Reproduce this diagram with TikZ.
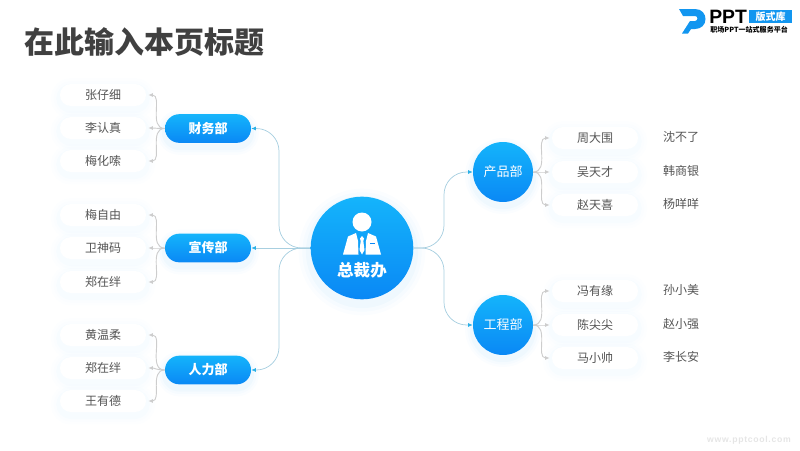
\documentclass[tikz,border=0pt]{standalone}
\usepackage{fontspec}
\usetikzlibrary{arrows.meta,positioning,calc,shapes.misc}
\setmainfont{Noto Sans CJK SC}
\newfontfamily\wmfont[LetterSpace=8]{Liberation Sans}
\newfontfamily\logofont{Liberation Sans}
\definecolor{skytop}{HTML}{14B4FB}
\definecolor{skybot}{HTML}{0A88F5}
\definecolor{inktext}{HTML}{555555}
\definecolor{titleink}{HTML}{404040}
\definecolor{glowblue}{HTML}{2AA5F5}
\definecolor{linkblue}{HTML}{A8CFE0}
\definecolor{tipblue}{HTML}{2BB0E6}
\definecolor{linkgrey}{HTML}{CDCDCD}
\definecolor{logoblue}{HTML}{1296F0}
\tikzset{
  softglow/.style={
    preaction={draw=glowblue,draw opacity=0.02,line width=#1*1.0pt,transform canvas={yshift=-3pt}},
    preaction={draw=glowblue,draw opacity=0.025,line width=#1*0.7pt,transform canvas={yshift=-3pt}},
    preaction={draw=glowblue,draw opacity=0.03,line width=#1*0.4pt,transform canvas={yshift=-3pt}}},
  paleglow/.style={
    preaction={draw=glowblue,draw opacity=0.008,line width=#1*1.0pt,transform canvas={yshift=-2.5pt}},
    preaction={draw=glowblue,draw opacity=0.012,line width=#1*0.7pt,transform canvas={yshift=-2.5pt}},
    preaction={draw=glowblue,draw opacity=0.016,line width=#1*0.4pt,transform canvas={yshift=-2.5pt}}},
  person/.style={rounded rectangle,fill=white,paleglow=14,minimum width=64.5pt,minimum height=16.5pt,
    inner sep=0pt,font=\fontsize{9}{11}\selectfont,text=inktext},
  dept/.style={rounded rectangle,top color=skytop,bottom color=skybot,softglow=12,minimum width=64.5pt,minimum height=21.5pt,
    inner sep=0pt,font=\fontsize{9.75}{12}\selectfont\bfseries,text=white},
  deptround/.style={circle,top color=skytop,bottom color=skybot,softglow=12,minimum size=45pt,
    inner sep=0pt,font=\fontsize{9.75}{12}\selectfont\bfseries,text=white},
  extra/.style={inner sep=0pt,font=\fontsize{9}{11}\selectfont,text=inktext},
  link/.style={draw=linkblue,line width=0.55pt,rounded corners=17pt,-{Latex[length=3.5pt,width=3pt,color=tipblue]}},
  sublink/.style={draw=linkgrey,line width=0.7pt,shorten >=1.5pt,-{Latex[length=3.5pt,width=3pt,color=linkgrey]}}
}
\begin{document}
\begin{tikzpicture}[x=0.75pt,y=-0.75pt]
\useasboundingbox (0,0) rectangle (800,450);

% Title
\node[anchor=west,inner sep=0pt,font=\fontsize{22.5}{26}\selectfont\bfseries,text=titleink] (title) at (24,42) {在此输入本页标题};

% Logo
\fill[logoblue,even odd rule] (679,9) -- (695,9) .. controls (702,9) and (705.5,14) .. (705.5,19) .. controls (705.5,25) and (701,29) .. (695,29) -- (691,29) -- (688,33.5) -- (682,33.5) -- (690,21) -- (695,21)
  .. controls (698,21) and (698.5,16) .. (695,16) -- (683,16) -- cycle;
\node[anchor=west,inner sep=0pt,font=\logofont\fontsize{14.5}{16}\selectfont\bfseries,text=black] (logoppt) at (709,16.5) {PPT};
\node[fill=logoblue,minimum width=32.2pt,minimum height=9.8pt,inner sep=0pt,font=\fontsize{7.5}{9}\selectfont\bfseries,text=white] (logotag) at (770.5,16.5) {版式库};
\node[anchor=west,inner sep=0pt,font=\fontsize{5.3}{6}\selectfont\bfseries,text=black] (logosub) at (710,29.5) {职场PPT一站式服务平台};

% Footer
\node[anchor=east,inner sep=0pt,font=\wmfont\fontsize{6.5}{8}\selectfont\bfseries,text=black!10] (footer) at (791,440) {www.pptcool.com};

% Hub
\node[circle,top color=skytop,bottom color=skybot,softglow=18,minimum size=77pt,inner sep=0pt] (hub) at (362,248) {};
\node[inner sep=0pt,font=\fontsize{12.4}{14}\selectfont\bfseries,text=white] (hubtext) at (362,270) {总裁办};
\fill[white] (362,222) circle (9.5);
\fill[white] (343,254.5) -- (348,236.5) -- (356,233) -- (358,241) -- (358.5,254.5) -- cycle;
\fill[white] (381,254.5) -- (376,236.5) -- (368,233) -- (366,241) -- (365.5,254.5) -- cycle;
\fill[white] (362,236) -- (364,238.5) -- (363.3,241) -- (364.5,250) -- (362,254.5) -- (359.5,250) -- (360.7,241) -- (360,238.5) -- cycle;
\fill[skybot] (370,243) rectangle (375,244);

% Departments
\node[dept] (fin) at (208,128.5) {财务部};
\node[dept] (pub) at (208,248) {宣传部};
\node[dept] (hr) at (208,370) {人力部};
\node[deptround] (prod) at (503,172) {\mdseries 产品部};
\node[deptround] (eng) at (503,325) {\mdseries 工程部};

% Left staff
\foreach \nm/\yy/\txt in {a1/95/张仔细, a2/128/李认真, a3/161/梅化嗦, b1/215/梅自由, b2/248/卫神码, b3/282/郑在绊, c1/335/黄温柔, c2/368/郑在绊, c3/401/王有德} {
    \node[person] (\nm) at (103,\yy) {\txt};
}

% Right staff
\foreach \nm/\yy/\txt in {d1/138/周大围, d2/172/吴天才, d3/205/赵天喜, e1/291/冯有缘, e2/325/陈尖尖, e3/358/马小帅} {
    \node[person] (\nm) at (595,\yy) {\txt};
}

% Right column
\foreach \nm/\yy/\txt in {f1/137/沈不了, f2/171/韩商银, f3/204/杨咩咩, g1/290/孙小美, g2/324/赵小强, g3/357/李长安} {
    \node[extra] (\nm) at (681,\yy) {\txt};
}

% Hub links
\coordinate (leftbus) at (279,248);
\coordinate (rightbus) at (444,248);
\foreach \to in {fin,hr}
    \draw[link] (hub.west) -- (leftbus) -- (leftbus |- \to.east) -- (\to.east);
\draw[link] (hub.west) -- (pub.east);
\foreach \to in {prod,eng}
    \draw[link] (hub.east) -- (rightbus) -- (rightbus |- \to.west) -- (\to.west);

% Staff links
\foreach \from/\to in {fin/a1,fin/a2,fin/a3,pub/b1,pub/b2,pub/b3,hr/c1,hr/c2,hr/c3}
    \draw[sublink] (\from.west) to[out=180,in=0,looseness=1.1] (\to.east);
\foreach \from/\to in {prod/d1,prod/d2,prod/d3,eng/e1,eng/e2,eng/e3}
    \draw[sublink] (\from.east) to[out=0,in=180,looseness=1.1] (\to.west);

\end{tikzpicture}
\end{document}
